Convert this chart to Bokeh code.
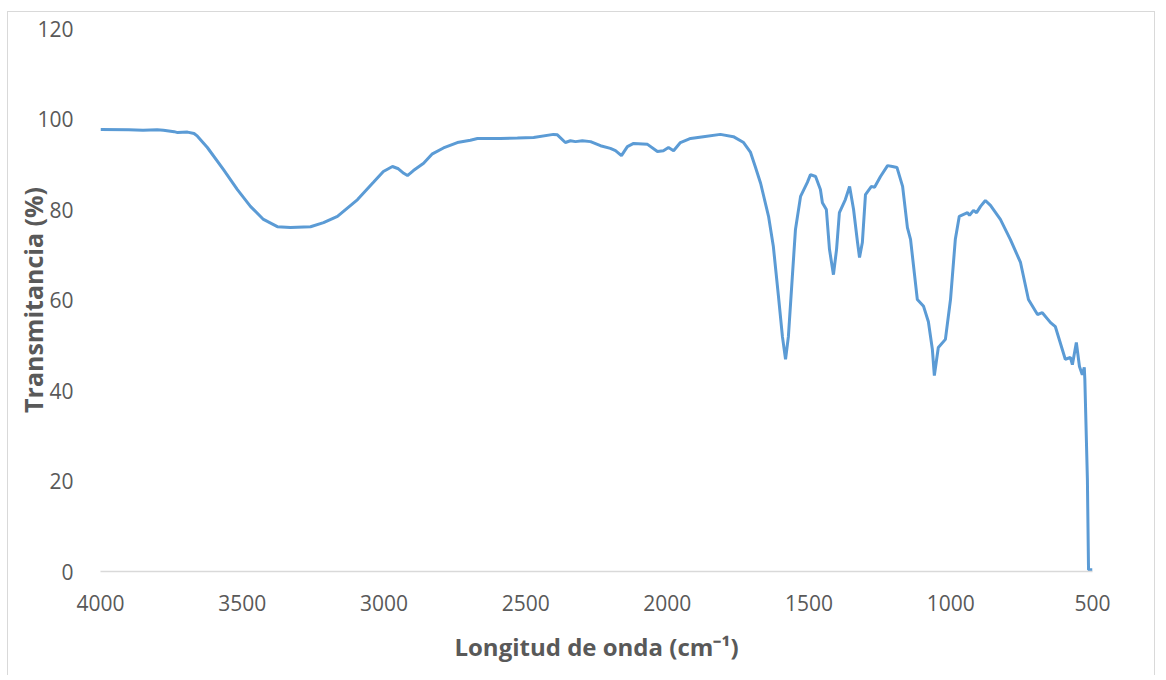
from bokeh.plotting import figure
from bokeh.models import Range1d, SingleIntervalTicker, ColumnDataSource
from bokeh.embed import file_html
from bokeh.resources import INLINE

# Wavenumber (cm-1) and transmittance (%)
wavenumber = [4000, 3900, 3850, 3800, 3778, 3740, 3728, 3693, 3670, 3658, 3623, 3566,
              3517, 3471, 3425, 3376, 3330, 3259, 3213, 3164, 3093, 3037, 3002, 2970,
              2949, 2930, 2917, 2896, 2860, 2829, 2790, 2741, 2695, 2670, 2589, 2529,
              2472, 2402, 2388, 2360, 2342, 2324, 2300, 2271, 2236, 2201, 2183, 2162,
              2141, 2119, 2070, 2035, 2014, 1996, 1978, 1954, 1918, 1873, 1813, 1767,
              1731, 1707, 1690, 1671, 1643, 1626, 1608, 1594, 1583, 1573, 1559, 1548,
              1530, 1506, 1495, 1477, 1460, 1453, 1439, 1428, 1414, 1403, 1393, 1372,
              1357, 1343, 1329, 1322, 1312, 1301, 1280, 1269, 1248, 1223, 1206, 1190,
              1170, 1153, 1142, 1118, 1096, 1079, 1065, 1058, 1044, 1019, 1001, 984,
              970, 941, 934, 920, 909, 895, 878, 860, 825, 790, 754, 726, 694, 677,
              648, 631, 596, 578, 571, 557, 546, 536, 529, 527, 518, 514, 500]
transmittance = [97.7, 97.6, 97.5, 97.6, 97.5, 97.2, 97.0, 97.1, 96.8, 96.2, 93.7, 88.8,
                 84.4, 80.7, 77.8, 76.2, 76.0, 76.2, 77.1, 78.5, 82.2, 86.0, 88.4, 89.5,
                 89.0, 88.0, 87.5, 88.6, 90.2, 92.3, 93.6, 94.8, 95.3, 95.7, 95.7, 95.8,
                 95.9, 96.6, 96.5, 94.8, 95.2, 95.0, 95.2, 95.0, 94.1, 93.5, 93.0, 91.9,
                 93.9, 94.6, 94.4, 92.8, 93.0, 93.7, 93.0, 94.8, 95.7, 96.1, 96.6, 96.1,
                 94.8, 92.7, 89.5, 85.8, 78.5, 71.8, 60.8, 51.9, 46.9, 51.9, 65.2, 75.6,
                 82.9, 86.0, 87.7, 87.3, 84.4, 81.5, 80.0, 71.2, 65.6, 71.2, 79.3, 82.2,
                 85.1, 80.0, 72.7, 69.4, 72.7, 83.3, 85.1, 84.9, 87.3, 89.7, 89.5, 89.3,
                 85.1, 76.0, 73.4, 60.1, 58.6, 55.2, 49.1, 43.3, 49.5, 51.3, 60.1, 73.4,
                 78.5, 79.3, 78.7, 79.8, 79.3, 80.7, 82.0, 80.9, 77.8, 73.4, 68.3, 60.1,
                 56.8, 57.2, 55.0, 54.1, 46.9, 47.3, 45.7, 50.6, 45.3, 43.5, 45.1, 42.4,
                 20.3, 0.4, 0.4]

x_title = "Longitud de onda (cm\u207b\u00b9)"
y_title = "Transmitancia (%)"

source = ColumnDataSource(data=dict(x=wavenumber, y=transmittance))

p = figure(width=1148, height=664, output_backend="svg", toolbar_location=None,
           x_range=Range1d(4000, 500), y_range=Range1d(0, 120),
           min_border_left=92, min_border_right=64, min_border_top=16, min_border_bottom=105)
p.styles = {"border-top": "1px solid #d9d9d9", "border-left": "1px solid #d9d9d9",
            "border-right": "1px solid #d9d9d9", "margin-top": "11px", "margin-left": "7px"}
p.outline_line_color = None
p.background_fill_color = "white"
p.border_fill_color = "white"

p.line("x", "y", source=source, line_color="#5B9BD5", line_width=3)

font = "Open Sans"
grey = "#595959"

p.xaxis.ticker = SingleIntervalTicker(interval=500)
p.yaxis.ticker = SingleIntervalTicker(interval=20)
p.xgrid.grid_line_color = None
p.ygrid.grid_line_color = None

for ax in (p.xaxis[0], p.yaxis[0]):
    ax.major_tick_line_color = None
    ax.minor_tick_line_color = None
    ax.major_tick_out = 0
    ax.major_tick_in = 0
    ax.major_label_text_font = font
    ax.major_label_text_font_size = "21px"
    ax.major_label_text_color = grey
    ax.axis_label_text_font = font
    ax.axis_label_text_font_size = "24px"
    ax.axis_label_text_font_style = "bold"
    ax.axis_label_text_color = grey

p.yaxis.axis_label_text_font_size = "25px"
p.xaxis.axis_line_color = "#d9d9d9"
p.xaxis.axis_line_width = 1.5
p.yaxis.axis_line_color = None
p.xaxis.axis_label = x_title
p.yaxis.axis_label = y_title
p.xaxis.major_label_standoff = 19
p.xaxis.axis_label_standoff = 16
p.yaxis.major_label_standoff = 23
p.yaxis.axis_label_standoff = -16

open("out.html", "w").write(file_html(p, INLINE))
